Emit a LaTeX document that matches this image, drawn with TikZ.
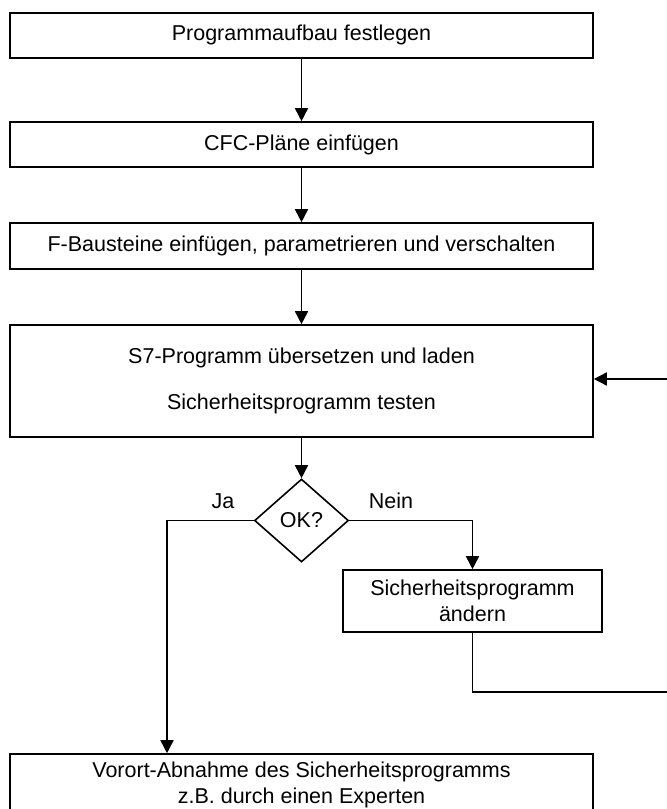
\documentclass[tikz,border=0pt]{standalone}
\usepackage{fontspec}
\setmainfont{Liberation Sans}
\usetikzlibrary{shapes.geometric,arrows.meta}

\begin{document}
\begin{tikzpicture}[x=1pt,y=-1pt,
  every node/.style={font=\fontsize{21.5}{26}\selectfont},
  stepbox/.style={draw,line width=1.6pt,rectangle,inner sep=0pt,align=center},
  decision/.style={draw,line width=1.6pt,diamond,inner sep=0pt,minimum width=94pt,minimum height=83pt},
  flow/.style={line width=1.6pt,-{Triangle[width=13pt,length=13pt]}},
  plainline/.style={line width=1.6pt}]
  \useasboundingbox (0,0) rectangle (667,809);
  \clip (0,0) rectangle (667,809);

  % process steps
  \node[stepbox,minimum width=583pt,minimum height=45pt] (b1) at (301.5,35.2) {Programmaufbau festlegen};
  \node[stepbox,minimum width=583pt,minimum height=45pt] (b2) at (301.5,144.5) {CFC-Pläne einfügen};
  \node[stepbox,minimum width=583pt,minimum height=46pt] (b3) at (301.5,246) {F-Bausteine einfügen, parametrieren und verschalten};
  \node[stepbox,minimum width=583pt,minimum height=112pt] (b4) at (301.5,381) {S7-Programm übersetzen und laden\\[20pt]Sicherheitsprogramm testen};
  \node[decision] (dia) at (301.5,520.5) {OK?};
  \node[stepbox,minimum width=259pt,minimum height=62pt] (b5) at (472.5,601) {Sicherheitsprogramm\\ändern};
  \node[stepbox,minimum width=583pt,minimum height=62pt] (b6) at (301.5,785) {Vorort-Abnahme des Sicherheitsprogramms\\z.B. durch einen Experten};

  % branch labels
  \node (ja) at (223,501) {Ja};
  \node (nein) at (391,501) {Nein};

  % main sequence
  \draw[flow] (b1.south) -- (b2.north);
  \draw[flow] (b2.south) -- (b3.north);
  \draw[flow] (b3.south) -- (b4.north);
  \draw[flow] (b4.south) -- (dia.north);

  % yes branch
  \coordinate (jaTurn) at (167,520.5);
  \draw[flow] (dia.west) -- (jaTurn) -- (jaTurn |- b6.north);

  % no branch
  \draw[flow] (dia.east) -| (b5.north);

  % loop back to testing
  \coordinate (fbLow) at (472.5,692);
  \coordinate (fbRLow) at (700,692);
  \coordinate (fbRHigh) at (700,379);
  \draw[flow] (b5.south) -- (fbLow) -- (fbRLow) -- (fbRHigh) -- (fbRHigh -| b4.east);
\end{tikzpicture}
\end{document}
